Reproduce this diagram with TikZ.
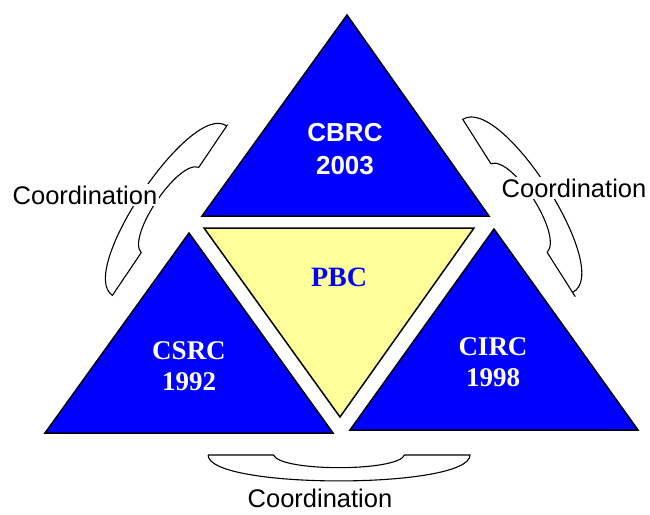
\documentclass[tikz,border=0pt]{standalone}
\usepackage{fontspec}
\setmainfont{Liberation Sans}
\newfontfamily\serifbf{Liberation Serif}
\definecolor{regblue}{RGB}{0,0,255}
\definecolor{pbcyellow}{RGB}{255,255,153}
\tikzset{
  tri/.style={fill=regblue, draw=black, line width=1.5pt, line join=miter},
  band/.style={fill=white, draw=black, line width=1.1pt},
  coordband/.pic={
    \draw[band] (-1,0) -- (-0.5,0) .. controls (-0.45,0.65) and (0.45,0.65) .. (0.5,0)
      -- (1,0) .. controls (1,1.33) and (-1,1.33) .. cycle;
  },
  coordlabel/.style={fill=white, inner sep=2pt, font=\fontsize{25.5}{30}\selectfont},
  reglabel/.style={text=white, align=center, font=\fontsize{27}{31}\selectfont\serifbf\bfseries},
}
\begin{document}
\begin{tikzpicture}[x=1pt, y=-1pt]
    \useasboundingbox (0,0) rectangle (650,514);
    % Coordination bands
    \pic[rotate=-124, xscale=103, yscale=33] at (170,210) {coordband};
    \pic[rotate=122.4, xscale=105, yscale=35] at (519,208) {coordband};
    \pic[xscale=131, yscale=26] at (339,455) {coordband};
    \node[coordlabel] (coordleft) at (85,195) {Coordination};
    \node[coordlabel] (coordright) at (574,188) {Coordination};
    \node[coordlabel, inner sep=0pt, anchor=base] (coordbottom) at (320,507) {Coordination};
    % Triangles
    \draw[tri] (347,15) -- (489,216) -- (202,216) -- cycle;
    \draw[tri, fill=pbcyellow] (204,228) -- (474,228) -- (340,417) -- cycle;
    \draw[tri] (189,233) -- (333,433) -- (45,433) -- cycle;
    \draw[tri] (494,229) -- (638,430) -- (350,430) -- cycle;
    % Labels
    \node[reglabel, font=\fontsize{26}{33}\selectfont\bfseries] (cbrc) at (345,149) {CBRC\\2003};
    \node[text=regblue, font=\fontsize{28}{34}\selectfont\serifbf\bfseries] (pbc) at (339,277) {PBC};
    \node[reglabel] (csrc) at (189,366) {CSRC\\1992};
    \node[reglabel] (circ) at (493,362) {CIRC\\1998};
\end{tikzpicture}
\end{document}
